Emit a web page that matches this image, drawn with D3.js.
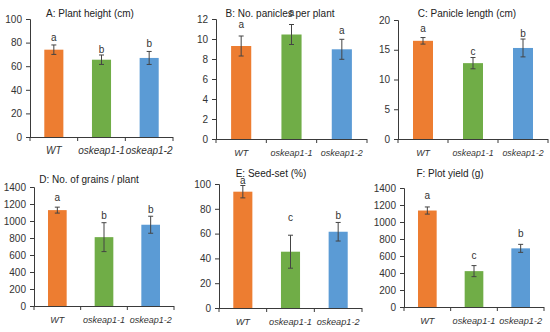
<!DOCTYPE html>
<html><head><meta charset="utf-8">
<script src="https://cdn.jsdelivr.net/npm/d3@7"></script>
<style>body{margin:0;background:#fff}svg{display:block}</style>
</head><body>
<svg id="c" width="550" height="332"></svg>
<script>
const categories = ["WT", "oskeap1-1", "oskeap1-2"];
const colors = ["#ED7D31", "#70AD47", "#5B9BD5"];

const plantHeight = [74, 65.5, 67];
const plantHeightErr = [4, 4, 5.5];
const plantHeightSig = ["a", "b", "b"];
const plantHeightSigAt = [81, 71.5, 76.5];

const panicles = [9.3, 10.45, 8.97];
const paniclesErr = [1, 1, 1];
const paniclesSig = ["a", "a", "a"];
const paniclesSigAt = [11.1, 12.35, 10.5];

const panicleLength = [16.5, 12.75, 15.3];
const panicleLengthErr = [0.55, 0.95, 1.5];
const panicleLengthSig = ["a", "c", "b"];
const panicleLengthSigAt = [17.9, 14.1, 17.2];

const grains = [1128, 810, 956];
const grainsErr = [35, 170, 100];
const grainsSig = ["a", "b", "b"];
const grainsSigAt = [1237, 1029, 1096];

const seedSet = [93.8, 45.4, 61.5];
const seedSetErr = [5, 13.3, 7.5];
const seedSetSig = ["a", "c", "b"];
const seedSetSigAt = [99.6, 70.2, 71.4];

const plotYield = [1135, 422, 690];
const plotYieldErr = [42, 65, 47];
const plotYieldSig = ["a", "c", "b"];
const plotYieldSigAt = [1270, 570, 823];

const titles = ["A: Plant height (cm)", "B: No. panicles per plant", "C: Panicle length  (cm)",
                "D: No. of grains / plant", "E: Seed-set (%)", "F: Plot yield (g)"];
const yMax = [100, 12, 20, 1400, 100, 1400];
const yStep = [20, 2, 5, 200, 20, 200];

const series = [
  [plantHeight, plantHeightErr, plantHeightSig, plantHeightSigAt],
  [panicles, paniclesErr, paniclesSig, paniclesSigAt],
  [panicleLength, panicleLengthErr, panicleLengthSig, panicleLengthSigAt],
  [grains, grainsErr, grainsSig, grainsSigAt],
  [seedSet, seedSetErr, seedSetSig, seedSetSigAt],
  [plotYield, plotYieldErr, plotYieldSig, plotYieldSigAt]
];

// layout (pixels)
const layout = [
  {x0: 30, x1: 173, yT: 19, yB: 137, tx: 90, ty: 13, xfs: 10},
  {x0: 216, x1: 367, yT: 19, yB: 139, tx: 280, ty: 13, xfs: 9},
  {x0: 398, x1: 548, yT: 20, yB: 139, tx: 467, ty: 13, xfs: 8.8},
  {x0: 34, x1: 174, yT: 187, yB: 306, tx: 89, ty: 179, xfs: 9},
  {x0: 219, x1: 362, yT: 184, yB: 308, tx: 271, ty: 173, xfs: 9.2},
  {x0: 404, x1: 544, yT: 188, yB: 307, tx: 450, ty: 173, xfs: 9.2}
];

const svg = d3.select("#c");
const font = "'Liberation Sans', Arial, sans-serif";
const axisCol = "#3a3a3a";
const textCol = "#333";

series.forEach((s, i) => {
  const [vals, errs, sig, sigAt] = s;
  const L = layout[i];
  const x = d3.scaleBand().domain(categories).range([L.x0, L.x1]).paddingInner(0.6).paddingOuter(0.3);
  const y = d3.scaleLinear().domain([0, yMax[i]]).range([L.yB, L.yT]);
  const g = svg.append("g");

  // title
  g.append("text").attr("x", L.tx).attr("y", L.ty + 3.5).attr("text-anchor", "middle")
    .attr("font-family", font).attr("font-size", 10).attr("fill", "#222").text(titles[i]);

  // bars
  g.selectAll("rect.bar").data(categories).join("rect")
    .attr("x", d => x(d)).attr("width", x.bandwidth())
    .attr("y", (d, j) => y(vals[j])).attr("height", (d, j) => y(0) - y(vals[j]))
    .attr("fill", (d, j) => colors[j]);

  // error bars
  categories.forEach((c, j) => {
    const cx = x(c) + x.bandwidth() / 2;
    const top = y(vals[j] + errs[j]), bot = y(vals[j] - errs[j]);
    const eg = g.append("g").attr("stroke", "#444").attr("stroke-width", 1);
    eg.append("line").attr("x1", cx).attr("x2", cx).attr("y1", top).attr("y2", bot);
    eg.append("line").attr("x1", cx - 2.5).attr("x2", cx + 2.5).attr("y1", top).attr("y2", top);
    eg.append("line").attr("x1", cx - 2.5).attr("x2", cx + 2.5).attr("y1", bot).attr("y2", bot);
    g.append("text").attr("x", cx).attr("y", y(sigAt[j])).attr("text-anchor", "middle")
      .attr("font-family", font).attr("font-size", 10).attr("fill", textCol).text(sig[j]);
  });

  // y axis
  const ya = g.append("g").attr("transform", `translate(${L.x0},0)`)
    .call(d3.axisLeft(y).tickValues(d3.range(0, yMax[i] + 1e-9, yStep[i])).tickSize(4).tickPadding(4).tickFormat(d3.format("d")));
  ya.select(".domain").attr("stroke", axisCol);
  ya.selectAll(".tick line").attr("stroke", axisCol);
  ya.selectAll("text").attr("font-family", font).attr("font-size", 10).attr("fill", textCol);

  // x axis: line + ticks at band boundaries
  const xg = g.append("g");
  xg.append("line").attr("x1", L.x0).attr("x2", L.x1).attr("y1", L.yB + 0.5).attr("y2", L.yB + 0.5).attr("stroke", axisCol);
  const bounds = [L.x0].concat(categories.map(c => x(c) + x.step() - x.step() * 0.3 + x.step() * 0.0));
  const step = x.step();
  [0, 1, 2, 3].forEach(k => {
    const bx = L.x0 + k * step;
    xg.append("line").attr("x1", bx).attr("x2", bx).attr("y1", L.yB).attr("y2", L.yB + 4).attr("stroke", axisCol);
  });
  xg.selectAll("text").data(categories).join("text")
    .attr("x", d => x(d) + x.bandwidth() / 2).attr("y", L.yB + 16.5).attr("text-anchor", "middle")
    .attr("font-family", font).attr("font-style", "italic").attr("font-size", L.xfs).attr("fill", textCol).text(d => d);
});
</script>
</body></html>
